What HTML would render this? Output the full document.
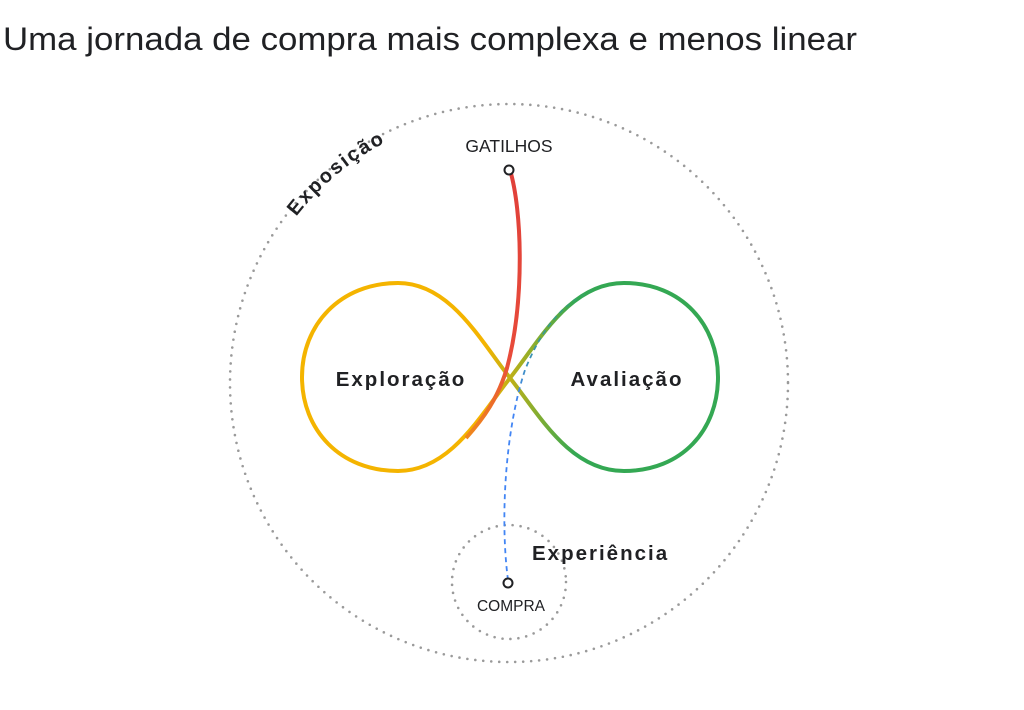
<!DOCTYPE html>
<html><head><meta charset="utf-8"><style>
html,body{margin:0;padding:0;background:#fff;}
svg{display:block;}
text{font-family:"Liberation Sans",sans-serif;}
</style></head><body>
<svg width="1024" height="710" viewBox="0 0 1024 710" xmlns="http://www.w3.org/2000/svg">
<defs>
<linearGradient id="yg" gradientUnits="userSpaceOnUse" x1="485" y1="0" x2="575" y2="0">
<stop offset="0" stop-color="#F4B400"/><stop offset="1" stop-color="#34A853"/></linearGradient>
<linearGradient id="rg" gradientUnits="userSpaceOnUse" x1="0" y1="170" x2="0" y2="440">
<stop offset="0" stop-color="#E0403A"/><stop offset="0.7" stop-color="#E84B3A"/><stop offset="1" stop-color="#F08A1C"/></linearGradient>
<linearGradient id="bg" gradientUnits="userSpaceOnUse" x1="0" y1="582" x2="0" y2="285">
<stop offset="0" stop-color="#4285F4"/><stop offset="0.6" stop-color="#4285F4"/><stop offset="1" stop-color="#34A853"/></linearGradient>
<path id="arc" d="M296.2,216.7 A270,270 0 0 1 470,115"/>
</defs>
<text x="3" y="50" font-size="32" fill="#202124" textLength="854" lengthAdjust="spacingAndGlyphs">Uma jornada de compra mais complexa e menos linear</text>
<circle cx="509" cy="383" r="279" fill="none" stroke="#9a9a9a" stroke-width="2.6" stroke-dasharray="0 8" stroke-linecap="round"/>
<circle cx="509" cy="582" r="57" fill="none" stroke="#9a9a9a" stroke-width="2.6" stroke-dasharray="0 8" stroke-linecap="round"/>
<text font-size="20" font-weight="bold" letter-spacing="2" fill="#202124"><textPath href="#arc">Exposição</textPath></text>
<path d="M398,283 C340,283 302,325 302,377 C302,430 340,471 398,471" fill="none" stroke="#F4B400" stroke-width="4"/>
<path d="M624,283 C682,283 718,325 718,377 C718,430 682,471 624,471" fill="none" stroke="#34A853" stroke-width="4"/>
<path d="M398,283 C450,283 480,340 510,378 C540,416 570,471 624,471" fill="none" stroke="url(#yg)" stroke-width="4"/>
<path d="M398,471 C450,471 480,416 510,378 C540,340 570,283 624,283" fill="none" stroke="url(#yg)" stroke-width="4"/>
<path d="M510,170 C522,210 525,300 507,368 C498,398 484,418 466,438" fill="none" stroke="url(#rg)" stroke-width="4"/>
<path d="M508,580 C500,520 505,430 525,370 C545,320 570,297 605,285" fill="none" stroke="url(#bg)" stroke-width="1.8" stroke-dasharray="5 4"/>
<circle cx="509" cy="170" r="4.5" fill="#fff" stroke="#202124" stroke-width="2"/>
<circle cx="508" cy="583" r="4.5" fill="#fff" stroke="#202124" stroke-width="2"/>
<text x="509" y="152" font-size="17.5" text-anchor="middle" fill="#202124">GATILHOS</text>
<text x="511" y="611" font-size="15.5" text-anchor="middle" fill="#202124">COMPRA</text>
<text x="401" y="386" font-size="20.5" font-weight="bold" letter-spacing="2" text-anchor="middle" fill="#202124">Exploração</text>
<text x="627" y="386" font-size="20.5" font-weight="bold" letter-spacing="2" text-anchor="middle" fill="#202124">Avaliação</text>
<text x="532" y="560" font-size="20.5" font-weight="bold" letter-spacing="2" fill="#202124">Experiência</text>
</svg>
</body></html>
